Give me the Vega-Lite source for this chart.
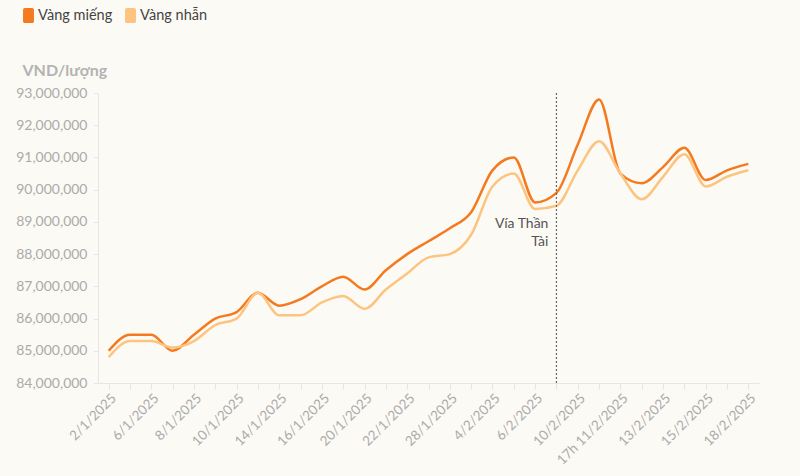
{
  "$schema": "https://vega.github.io/schema/vega-lite/v6.json",
  "width": 661,
  "height": 290,
  "autosize": {"type": "none"},
  "padding": {"left": 98, "top": 93, "right": 41, "bottom": 93},
  "background": "#fcfaf5",
  "config": {"font": "Lato", "view": {"stroke": null}},
  "data": {"values": [
    {"ngay": "2/1/2025", "loai": "Vàng miếng", "gia": 85000000},
    {"ngay": "3/1/2025", "loai": "Vàng miếng", "gia": 85500000},
    {"ngay": "6/1/2025", "loai": "Vàng miếng", "gia": 85500000},
    {"ngay": "7/1/2025", "loai": "Vàng miếng", "gia": 85000000},
    {"ngay": "8/1/2025", "loai": "Vàng miếng", "gia": 85500000},
    {"ngay": "9/1/2025", "loai": "Vàng miếng", "gia": 86000000},
    {"ngay": "10/1/2025", "loai": "Vàng miếng", "gia": 86200000},
    {"ngay": "13/1/2025", "loai": "Vàng miếng", "gia": 86800000},
    {"ngay": "14/1/2025", "loai": "Vàng miếng", "gia": 86400000},
    {"ngay": "15/1/2025", "loai": "Vàng miếng", "gia": 86600000},
    {"ngay": "16/1/2025", "loai": "Vàng miếng", "gia": 87000000},
    {"ngay": "17/1/2025", "loai": "Vàng miếng", "gia": 87300000},
    {"ngay": "20/1/2025", "loai": "Vàng miếng", "gia": 86900000},
    {"ngay": "21/1/2025", "loai": "Vàng miếng", "gia": 87500000},
    {"ngay": "22/1/2025", "loai": "Vàng miếng", "gia": 88000000},
    {"ngay": "23/1/2025", "loai": "Vàng miếng", "gia": 88400000},
    {"ngay": "28/1/2025", "loai": "Vàng miếng", "gia": 88800000},
    {"ngay": "3/2/2025", "loai": "Vàng miếng", "gia": 89300000},
    {"ngay": "4/2/2025", "loai": "Vàng miếng", "gia": 90600000},
    {"ngay": "5/2/2025", "loai": "Vàng miếng", "gia": 91000000},
    {"ngay": "6/2/2025", "loai": "Vàng miếng", "gia": 89600000},
    {"ngay": "7/2/2025", "loai": "Vàng miếng", "gia": 89900000},
    {"ngay": "10/2/2025", "loai": "Vàng miếng", "gia": 91400000},
    {"ngay": "11/2/2025", "loai": "Vàng miếng", "gia": 92800000},
    {"ngay": "17h 11/2/2025", "loai": "Vàng miếng", "gia": 90500000},
    {"ngay": "12/2/2025", "loai": "Vàng miếng", "gia": 90200000},
    {"ngay": "13/2/2025", "loai": "Vàng miếng", "gia": 90700000},
    {"ngay": "14/2/2025", "loai": "Vàng miếng", "gia": 91300000},
    {"ngay": "15/2/2025", "loai": "Vàng miếng", "gia": 90300000},
    {"ngay": "17/2/2025", "loai": "Vàng miếng", "gia": 90600000},
    {"ngay": "18/2/2025", "loai": "Vàng miếng", "gia": 90800000},
    {"ngay": "2/1/2025", "loai": "Vàng nhẫn", "gia": 84800000},
    {"ngay": "3/1/2025", "loai": "Vàng nhẫn", "gia": 85300000},
    {"ngay": "6/1/2025", "loai": "Vàng nhẫn", "gia": 85300000},
    {"ngay": "7/1/2025", "loai": "Vàng nhẫn", "gia": 85100000},
    {"ngay": "8/1/2025", "loai": "Vàng nhẫn", "gia": 85300000},
    {"ngay": "9/1/2025", "loai": "Vàng nhẫn", "gia": 85800000},
    {"ngay": "10/1/2025", "loai": "Vàng nhẫn", "gia": 86000000},
    {"ngay": "13/1/2025", "loai": "Vàng nhẫn", "gia": 86800000},
    {"ngay": "14/1/2025", "loai": "Vàng nhẫn", "gia": 86100000},
    {"ngay": "15/1/2025", "loai": "Vàng nhẫn", "gia": 86100000},
    {"ngay": "16/1/2025", "loai": "Vàng nhẫn", "gia": 86500000},
    {"ngay": "17/1/2025", "loai": "Vàng nhẫn", "gia": 86700000},
    {"ngay": "20/1/2025", "loai": "Vàng nhẫn", "gia": 86300000},
    {"ngay": "21/1/2025", "loai": "Vàng nhẫn", "gia": 86900000},
    {"ngay": "22/1/2025", "loai": "Vàng nhẫn", "gia": 87400000},
    {"ngay": "23/1/2025", "loai": "Vàng nhẫn", "gia": 87900000},
    {"ngay": "28/1/2025", "loai": "Vàng nhẫn", "gia": 88000000},
    {"ngay": "3/2/2025", "loai": "Vàng nhẫn", "gia": 88600000},
    {"ngay": "4/2/2025", "loai": "Vàng nhẫn", "gia": 90100000},
    {"ngay": "5/2/2025", "loai": "Vàng nhẫn", "gia": 90500000},
    {"ngay": "6/2/2025", "loai": "Vàng nhẫn", "gia": 89400000},
    {"ngay": "7/2/2025", "loai": "Vàng nhẫn", "gia": 89500000},
    {"ngay": "10/2/2025", "loai": "Vàng nhẫn", "gia": 90600000},
    {"ngay": "11/2/2025", "loai": "Vàng nhẫn", "gia": 91500000},
    {"ngay": "17h 11/2/2025", "loai": "Vàng nhẫn", "gia": 90500000},
    {"ngay": "12/2/2025", "loai": "Vàng nhẫn", "gia": 89700000},
    {"ngay": "13/2/2025", "loai": "Vàng nhẫn", "gia": 90400000},
    {"ngay": "14/2/2025", "loai": "Vàng nhẫn", "gia": 91100000},
    {"ngay": "15/2/2025", "loai": "Vàng nhẫn", "gia": 90100000},
    {"ngay": "17/2/2025", "loai": "Vàng nhẫn", "gia": 90400000},
    {"ngay": "18/2/2025", "loai": "Vàng nhẫn", "gia": 90600000}
  ]},
  "encoding": {
    "x": {
      "field": "ngay",
      "type": "ordinal",
      "scale": {
        "type": "point",
        "padding": 0.5,
        "domain": ["2/1/2025","3/1/2025","6/1/2025","7/1/2025","8/1/2025","9/1/2025","10/1/2025","13/1/2025","14/1/2025","15/1/2025","16/1/2025","17/1/2025","20/1/2025","21/1/2025","22/1/2025","23/1/2025","28/1/2025","3/2/2025","4/2/2025","5/2/2025","6/2/2025","7/2/2025","10/2/2025","11/2/2025","17h 11/2/2025","12/2/2025","13/2/2025","14/2/2025","15/2/2025","17/2/2025","18/2/2025"]
      },
      "axis": {
        "title": null,
        "labelAngle": -45,
        "labelColor": "#ababab",
        "labelFontSize": 13.5,
        "labelOverlap": false,
        "tickSize": 6,
        "tickColor": "#e6e6e6",
        "domainColor": "#e6e6e6",
        "grid": false,
        "labelExpr": "indexof(['2/1/2025','6/1/2025','8/1/2025','10/1/2025','14/1/2025','16/1/2025','20/1/2025','22/1/2025','28/1/2025','4/2/2025','6/2/2025','10/2/2025','17h 11/2/2025','13/2/2025','15/2/2025','18/2/2025'], datum.value) >= 0 ? datum.value : ''"
      }
    },
    "y": {
      "field": "gia",
      "type": "quantitative",
      "scale": {"domain": [84000000, 93000000], "nice": false, "zero": false},
      "axis": {
        "title": "VND/lượng",
        "titleAngle": 0,
        "titleAlign": "left",
        "titleBaseline": "alphabetic",
        "titleX": -76,
        "titleY": -18,
        "titleFontSize": 16,
        "titleFontWeight": "bold",
        "titleColor": "#b3b3b3",
        "format": ",d",
        "values": [84000000, 85000000, 86000000, 87000000, 88000000, 89000000, 90000000, 91000000, 92000000, 93000000],
        "labelOverlap": false,
        "labelColor": "#ababab",
        "labelFontSize": 14,
        "tickSize": 5,
        "labelPadding": 6,
        "tickColor": "#e6e6e6",
        "domainColor": "#e6e6e6",
        "grid": false
      }
    }
  },
  "layer": [
    {
      "mark": {"type": "line", "interpolate": "monotone", "strokeWidth": 2.5},
      "encoding": {
        "color": {
          "field": "loai",
          "type": "nominal",
          "scale": {"domain": ["Vàng miếng", "Vàng nhẫn"], "range": ["#f47a20", "#fdc47f"]},
          "legend": {
            "title": null,
            "orient": "none",
            "direction": "horizontal",
            "legendX": -77,
            "legendY": -85,
            "padding": 0,
            "symbolType": "M-0.73,-0.75A0.25,0.25 0 0 1 -0.48,-1H0.48A0.25,0.25 0 0 1 0.73,-0.75V0.75A0.25,0.25 0 0 1 0.48,1H-0.48A0.25,0.25 0 0 1 -0.73,0.75Z",
            "symbolSize": 225,
            "symbolStrokeWidth": 0,
            "labelFontSize": 14.5,
            "labelColor": "#444444",
            "labelOffset": 2,
            "columnPadding": 10,
            "encode": {"symbols": {"update": {"fill": {"scale": "color", "field": "value"}, "strokeWidth": {"value": 0}}}}
          }
        }
      }
    },
    {
      "transform": [{"filter": "datum.ngay == '7/2/2025' && datum.loai == 'Vàng miếng'"}],
      "mark": {"type": "rule", "strokeDash": [2, 2], "color": "#666666", "strokeWidth": 1.2},
      "encoding": {"y": null}
    },
    {
      "transform": [{"filter": "datum.ngay == '7/2/2025' && datum.loai == 'Vàng miếng'"}],
      "mark": {"type": "text", "text": ["Vía Thần", "Tài"], "align": "right", "baseline": "middle", "dx": -8, "dy": 31, "fontSize": 14, "lineHeight": 18, "fill": "#555555"}
    }
  ]
}
